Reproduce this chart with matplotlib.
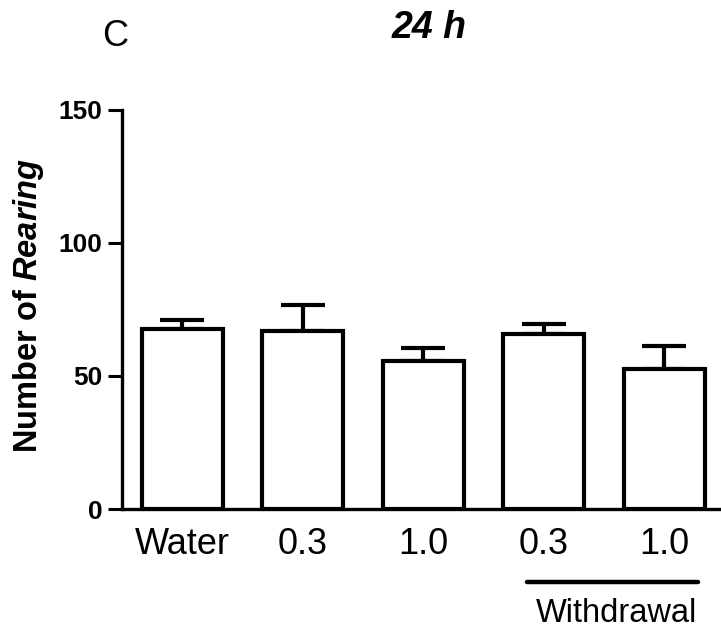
import matplotlib
matplotlib.use("Agg")
import matplotlib.pyplot as plt
import matplotlib.transforms as mtransforms

categories = ["Water", "0.3", "1.0", "0.3", "1.0"]
means = [67.7, 67.1, 55.8, 65.6, 52.8]
sems = [3.5, 9.6, 4.9, 3.8, 8.3]
yticks = [0, 50, 100, 150]

plt.rcParams['font.family'] = ['Liberation Sans', 'DejaVu Sans']
plt.rcParams['mathtext.fontset'] = 'custom'
plt.rcParams['mathtext.bfit'] = 'Liberation Sans:italic:bold'
plt.rcParams['mathtext.it'] = 'Liberation Sans:italic'
plt.rcParams['mathtext.bf'] = 'Liberation Sans:bold'
plt.rcParams['mathtext.rm'] = 'Liberation Sans'

fig = plt.figure(figsize=(7.21, 6.32), dpi=100)
ax = fig.add_axes([0.1692, 0.1946, 0.8308, 0.6314])

x = list(range(len(categories)))
ax.bar(x, means, width=0.67, color='white', edgecolor='black', linewidth=3.0, zorder=3)
ax.errorbar(x, means, yerr=[[0]*len(sems), sems], fmt='none', ecolor='black',
            elinewidth=3.0, capsize=16, capthick=3.0, zorder=2)

ax.set_xlim(-0.5, 4.47)
ax.set_ylim(0, 150)
ax.set_yticks(yticks)
ax.set_yticklabels([str(t) for t in yticks], fontsize=19, fontweight='bold')
ax.set_xticks(x)
ax.set_xticklabels(categories, fontsize=26)
ax.tick_params(axis='x', length=0, pad=13)
ax.tick_params(axis='y', length=10, width=2.2, pad=4)

for s in ['top', 'right']:
    ax.spines[s].set_visible(False)
for s in ['left', 'bottom']:
    ax.spines[s].set_linewidth(2.4)

trans = mtransforms.blended_transform_factory(ax.transData, fig.transFigure)
ax.plot([2.86, 4.28], [1 - 582/632, 1 - 582/632], color='black', lw=3.2,
        solid_capstyle='round', transform=trans, clip_on=False)
fig.text((616)/721, 1 - 613/632, "Withdrawal", ha='center', va='center', fontsize=23.5)

fig.text(29/721, 1 - 305/632, r"$\mathbf{Number\ of}\ \mathbfit{Rearing}$", rotation=90,
         ha='center', va='center', fontsize=23.5)

fig.text(429/721, 1 - 28/632, "24 h", ha='center', va='center', fontsize=27,
         fontweight='bold', fontstyle='italic')
fig.text(115/721, 1 - 37/632, "C", ha='center', va='center', fontsize=26)

fig.savefig("out.png", dpi=100)
